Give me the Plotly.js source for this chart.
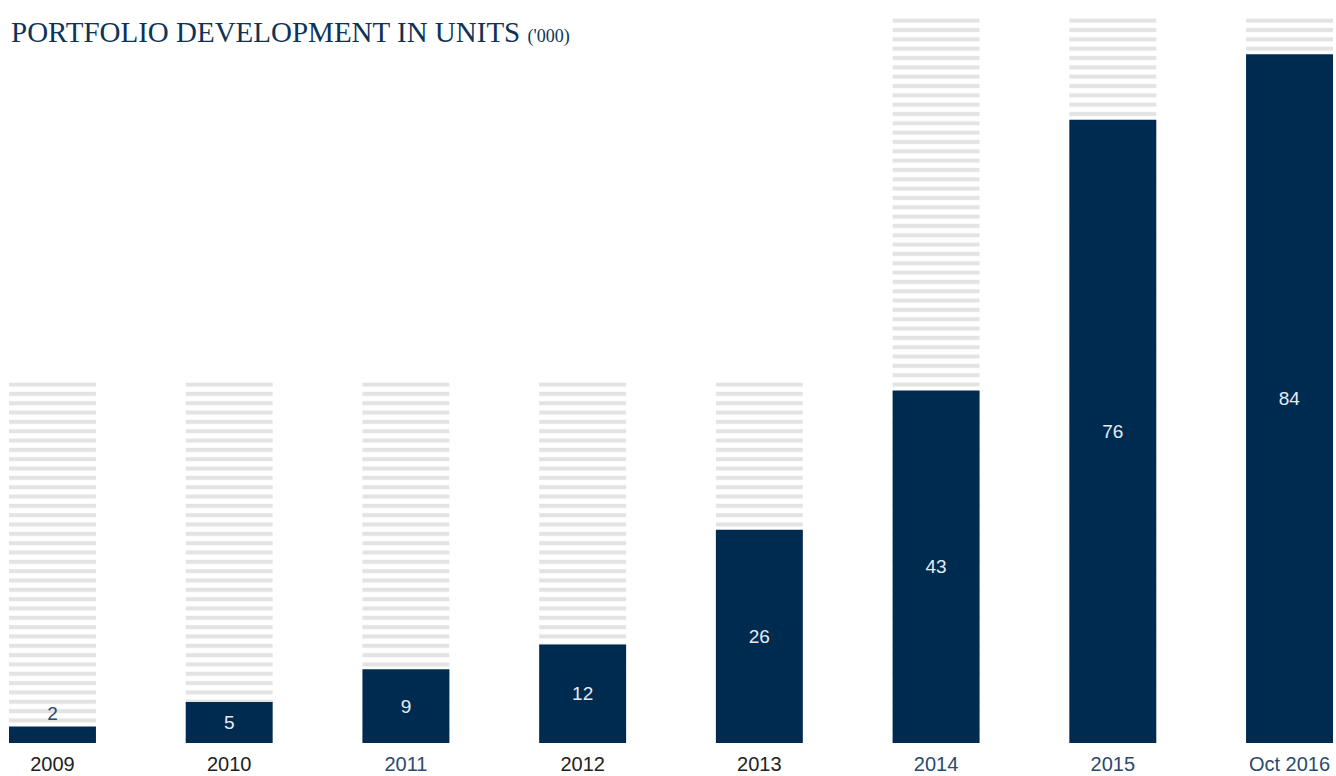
<!DOCTYPE html>
<html><head><meta charset="utf-8">
<script src="https://cdn.plot.ly/plotly-3.0.1.min.js"></script>
<style>html,body{margin:0;padding:0;background:#fff}#chart{width:1336px;height:776px}</style>
</head><body><div id="chart"></div>
<script>
const categories = ['2009','2010','2011','2012','2013','2014','2015','Oct 2016'];
const units = [2, 5, 9, 12, 26, 43, 76, 84];
const backdrop = [44, 44, 44, 44, 44, 88.66, 88.66, 88.66];
const tickColors = ['#222222','#222222','#2b4a6e','#222222','#222222','#2b4a6e','#2b4a6e','#2b4a6e'];

const navy = '#002b51';
const xs = categories.map((c,i)=>i);
const tickText = categories.map((c,i)=>'<span style="color:'+tickColors[i]+'">'+c+'</span>');

const traces = [
  {type:'bar', x:xs, y:backdrop, width:0.492, hoverinfo:'skip',
   marker:{color:'#ffffff', line:{width:0},
     pattern:{shape:'-', size:9.33, solidity:0.43, fgcolor:'#e3e3e3', bgcolor:'#ffffff', fillmode:'replace'}}},
  {type:'bar', x:xs, y:units, width:0.492,
   marker:{color:navy, line:{width:0}},
   text:units.map(String),
   textposition:units.map(v=>v<4?'outside':'inside'),
   insidetextanchor:'middle',
   constraintext:'none',
   cliponaxis:false,
   insidetextfont:{family:'Liberation Sans, Arial, sans-serif', size:19, color:'#e6ebf1'},
   outsidetextfont:{family:'Liberation Sans, Arial, sans-serif', size:19, color:'#2b4a6e'}}
];

const layout = {
  width:1336, height:776,
  margin:{l:9, r:3, t:16, b:33},
  paper_bgcolor:'#ffffff', plot_bgcolor:'#ffffff',
  barmode:'overlay', showlegend:false,
  xaxis:{range:[-0.246, 7.246], tickvals:xs, ticktext:tickText, showgrid:false, zeroline:false,
         showline:false, ticks:'', ticklabelstandoff:7,
         tickfont:{family:'Liberation Sans, Arial, sans-serif', size:20, color:'#222222'}},
  yaxis:{range:[0, 88.66], visible:false, showgrid:false, zeroline:false},
  annotations:[{xref:'paper', yref:'paper', x:0, y:1, xanchor:'left', yanchor:'middle',
    xshift:0, yshift:-16,
    text:'PORTFOLIO DEVELOPMENT IN UNITS <span style="font-size:18px">(\'000)</span>',
    showarrow:false, font:{family:'Liberation Serif, Times New Roman, serif', size:29, color:'#0e3358'}}]
};
Plotly.newPlot('chart', traces, layout, {displayModeBar:false, staticPlot:true});
</script></body></html>
